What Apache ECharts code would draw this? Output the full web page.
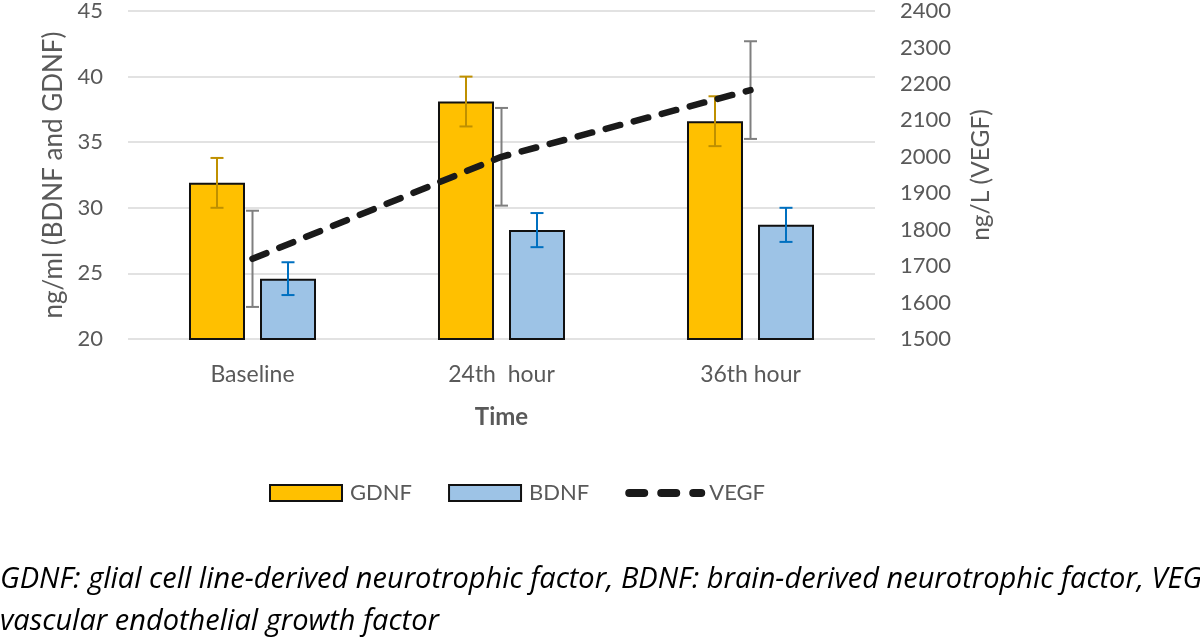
<!DOCTYPE html>
<html>
<head>
<meta charset="utf-8">
<script src="https://cdn.jsdelivr.net/npm/echarts@6/dist/echarts.min.js"></script>
<style>
  html, body { margin: 0; padding: 0; background: #fff; }
  #chart { width: 1200px; height: 640px; }
</style>
</head>
<body>
<div id="chart"></div>
<script>
// Chart data
const categories = ['Baseline', '24th  hour', '36th hour'];
const gdnf = [31.9, 38.1, 36.6];
const gdnfErr = [1.9, 1.9, 1.9];
const bdnf = [24.6, 28.3, 28.7];
const bdnfErr = [1.25, 1.3, 1.3];
const vegf = [1720, 2000, 2183];
const vegfErr = [132, 134, 134];
const caption = [
  'GDNF: glial cell line-derived neurotrophic factor, BDNF: brain-derived neurotrophic factor, VEGF:',
  'vascular endothelial growth factor',
];

const FONT = 'Lato';
const GREY = '#595959';
const BAR_W = 56;
const BAR_GAP = 15;

// Error bar builder, offset = px shift from category center
const errorSeries = (name, values, errs, color, offset, yAxisIndex) => ({
  name: name + ' err',
  type: 'custom',
  yAxisIndex,
  z: 5,
  silent: true,
  data: values.map((v, i) => [i, v - errs[i], v + errs[i]]),
  renderItem: (params, api) => {
    const lo = api.coord([api.value(0), api.value(1)]);
    const hi = api.coord([api.value(0), api.value(2)]);
    const x = lo[0] + offset;
    const cap = 6.5;
    const style = { stroke: color, lineWidth: 2 };
    return {
      type: 'group',
      children: [
        { type: 'line', shape: { x1: x, y1: lo[1], x2: x, y2: hi[1] }, style },
        { type: 'line', shape: { x1: x - cap, y1: lo[1], x2: x + cap, y2: lo[1] }, style },
        { type: 'line', shape: { x1: x - cap, y1: hi[1], x2: x + cap, y2: hi[1] }, style },
      ],
    };
  },
});

const chart = echarts.init(document.getElementById('chart'));
const barOffset = (BAR_W + BAR_GAP) / 2;

const option = {
  animation: false,
  textStyle: { fontFamily: FONT },
  grid: { left: 128, right: 325, top: 9, bottom: 301, containLabel: false },
  legend: {
    left: 264,
    top: 477,
    itemWidth: 72,
    itemHeight: 16,
    itemGap: 36,
    textStyle: { color: GREY, fontSize: 22, fontFamily: FONT, padding: [0, 0, 0, 3] },
    data: [
      { name: 'GDNF', icon: 'rect' },
      { name: 'BDNF', icon: 'rect' },
      // hide the symbol, keep the dashed line
      {
        name: 'VEGF',
        itemStyle: { color: 'transparent', borderWidth: 0 },
        lineStyle: { width: 8, type: [15, 17], cap: 'round' },
      },
    ],
  },
  xAxis: {
    type: 'category',
    data: categories,
    name: 'Time',
    nameLocation: 'middle',
    nameGap: 66,
    nameTextStyle: { color: GREY, fontSize: 24, fontWeight: 'bold', fontFamily: FONT },
    axisLine: { show: false },
    axisTick: { show: false },
    axisLabel: { color: GREY, fontSize: 23, margin: 24, fontFamily: FONT },
  },
  yAxis: [
    {
      type: 'value',
      min: 20,
      max: 45,
      interval: 5,
      name: 'ng/ml (BDNF and GDNF)',
      nameLocation: 'middle',
      nameGap: 57,
      nameTextStyle: { color: GREY, fontSize: 26, fontFamily: FONT },
      axisLine: { show: false },
      axisTick: { show: false },
      axisLabel: { color: GREY, fontSize: 22, margin: 25, fontFamily: FONT },
      splitLine: { lineStyle: { color: '#d9d9d9', width: 1.5 } },
    },
    {
      type: 'value',
      min: 1500,
      max: 2400,
      interval: 100,
      name: 'ng/L (VEGF)',
      nameLocation: 'middle',
      nameGap: 94,
      nameTextStyle: { color: GREY, fontSize: 24.5, fontFamily: FONT },
      axisLine: { show: false },
      axisTick: { show: false },
      axisLabel: { color: GREY, fontSize: 22, margin: 25, fontFamily: FONT, formatter: (v) => String(v) },
      splitLine: { show: false },
    },
  ],
  series: [
    {
      name: 'GDNF',
      type: 'bar',
      data: gdnf,
      barWidth: BAR_W,
      barGap: (BAR_GAP / BAR_W * 100).toFixed(1) + '%',
      itemStyle: { color: '#FFC000', borderColor: '#111', borderWidth: 2 },
    },
    {
      name: 'BDNF',
      type: 'bar',
      data: bdnf,
      barWidth: BAR_W,
      itemStyle: { color: '#9DC3E6', borderColor: '#111', borderWidth: 2 },
    },
    {
      name: 'VEGF',
      type: 'line',
      yAxisIndex: 1,
      data: vegf,
      symbol: 'none',
      z: 6,
      lineStyle: { color: '#1a1a1a', width: 6.5, type: [15, 14], cap: 'round' },
      itemStyle: { color: '#1a1a1a' },
    },
    errorSeries('GDNF', gdnf, gdnfErr, '#BF9000', -barOffset, 0),
    errorSeries('BDNF', bdnf, bdnfErr, '#0070C0', barOffset, 0),
    errorSeries('VEGF', vegf, vegfErr, '#7F7F7F', 0, 1),
  ],
  graphic: caption.map((line, i) => ({
    type: 'text',
    left: 0,
    top: 565 + i * 42,
    style: {
      text: line,
      fill: '#000',
      font: 'italic 29px "Open Sans"',
    },
  })),
};

chart.setOption(option);
</script>
</body>
</html>
